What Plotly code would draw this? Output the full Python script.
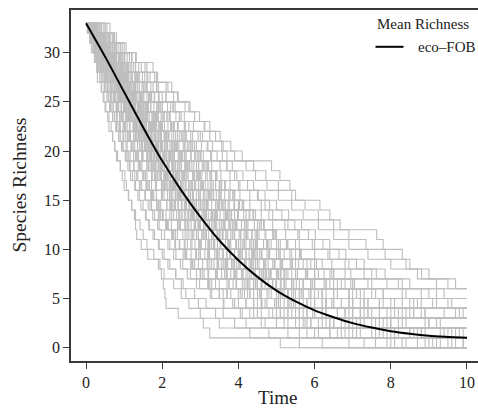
import plotly.graph_objects as go

# ---- data -------------------------------------------------------------
START_RICHNESS = 33
T_END = 10

# Mean richness curve (eco-FOB)
mean_time = [0, 0.5, 1.0, 1.5, 2.0, 2.5, 3.0, 3.5, 4.0, 4.5, 5.0,
             5.5, 6.0, 6.5, 7.0, 7.5, 8.0, 8.5, 9.0, 9.5, 10.0]
mean_richness = [33, 29.6, 26.0, 22.4, 19.0, 16.0, 13.3, 10.9, 8.9, 7.2, 5.8,
                 4.7, 3.8, 3.1, 2.5, 2.05, 1.68, 1.42, 1.22, 1.1, 1.0]

# Simulated runs: times at which one species is lost (richness 33 -> 32 -> ...)
run_a = [0.05,0.1,0.18,0.24,0.3,0.36,0.41,0.47,0.52,0.6,0.66,0.7,0.76,0.83,0.9,1.02,1.06,1.11,1.2,1.27,1.3,1.33,1.45,1.62,1.94,1.98,2.03,2.07,2.1,2.42,3.08,3.25,5.1]
run_b = [0.08,0.15,0.22,0.3,0.38,0.45,0.52,0.6,0.68,0.75,0.84,0.9,0.98,1.08,1.15,1.22,1.3,1.4,1.5,1.58,1.66,1.8,1.92,2.05,2.2,2.36,2.5,2.62,2.95,3.4,3.9,4.8,6.2]
run_c = [0.1,0.2,0.25,0.33,0.42,0.5,0.56,0.66,0.72,0.8,0.88,0.97,1.05,1.12,1.25,1.33,1.42,1.55,1.63,1.75,1.88,1.98,2.15,2.3,2.48,2.66,2.9,3.3,3.62,4.1,4.6,5.6,7.3]
run_d = [0.12,0.22,0.3,0.4,0.5,0.58,0.66,0.78,0.86,0.98,1.08,1.17,1.28,1.38,1.47,1.6,1.72,1.85,1.96,2.1,2.24,2.4,2.58,2.76,2.95,3.2,3.4,3.7,4.2,4.9,5.5,6.9,9.1]
run_e = [0.09,0.2,0.35,0.45,0.52,0.63,0.74,0.85,0.93,1.04,1.15,1.26,1.35,1.48,1.6,1.72,1.84,1.98,2.12,2.25,2.42,2.6,2.78,2.96,3.18,3.42,3.75,4.1,4.5,5.2,6.1,7.8]
run_f = [0.15,0.24,0.36,0.48,0.58,0.7,0.8,0.9,1.02,1.12,1.24,1.36,1.48,1.6,1.72,1.86,1.99,2.14,2.28,2.44,2.6,2.8,2.98,3.2,3.45,3.7,3.95,4.3,4.75,5.3,6.4,8.2,9.6]
run_g = [0.11,0.26,0.38,0.5,0.61,0.72,0.86,0.97,1.1,1.2,1.33,1.45,1.58,1.7,1.84,1.97,2.12,2.28,2.42,2.58,2.76,2.95,3.14,3.38,3.62,3.88,4.2,4.55,5.0,5.7,6.5,8.8]
run_h = [0.13,0.27,0.4,0.53,0.66,0.78,0.9,1.03,1.15,1.28,1.41,1.54,1.66,1.8,1.95,2.1,2.25,2.42,2.6,2.76,2.94,3.15,3.36,3.6,3.86,4.12,4.45,4.8,5.3,5.95,6.9,9.3]
run_i = [0.17,0.3,0.41,0.55,0.68,0.8,0.94,1.06,1.18,1.3,1.44,1.58,1.7,1.85,2.0,2.14,2.3,2.46,2.64,2.82,3.0,3.22,3.45,3.7,3.95,4.25,4.6,5.05,5.5,6.2,7.3]
run_j = [0.14,0.28,0.43,0.56,0.7,0.83,0.97,1.1,1.24,1.37,1.5,1.64,1.78,1.92,2.06,2.22,2.38,2.55,2.72,2.9,3.08,3.3,3.52,3.78,4.05,4.34,4.7,5.1,5.6,6.3,7.8,9.8]
run_k = [0.16,0.3,0.46,0.6,0.74,0.88,1.02,1.16,1.3,1.44,1.59,1.73,1.87,2.02,2.18,2.35,2.52,2.7,2.9,3.08,3.3,3.52,3.78,4.02,4.32,4.62,4.98,5.4,5.9,6.6,7.5]
run_l = [0.12,0.32,0.44,0.62,0.72,0.9,1.0,1.18,1.28,1.46,1.56,1.76,1.84,2.06,2.14,2.4,2.48,2.74,2.84,3.12,3.24,3.58,3.72,4.1,4.28,4.7,4.9,5.5,5.8,6.9,8.0,9.4]
run_m = [0.18,0.34,0.48,0.63,0.78,0.92,1.07,1.22,1.36,1.51,1.66,1.8,1.95,2.1,2.27,2.45,2.62,2.82,3.01,3.21,3.43,3.67,3.93,4.2,4.5,4.84,5.2,5.65,6.2,7.0,8.4]
run_n = [0.2,0.36,0.5,0.66,0.8,0.96,1.1,1.26,1.4,1.55,1.7,1.86,2.0,2.16,2.34,2.52,2.7,2.9,3.1,3.32,3.55,3.8,4.05,4.35,4.66,5.0,5.4,5.85,6.5,7.4,9.0]
run_o = [0.15,0.33,0.5,0.68,0.82,0.98,1.13,1.28,1.44,1.6,1.75,1.9,2.06,2.22,2.4,2.58,2.76,2.96,3.18,3.4,3.64,3.9,4.16,4.46,4.78,5.12,5.52,6.0,6.7,7.7,9.2]
run_p = [0.21,0.38,0.54,0.7,0.86,1.03,1.18,1.34,1.5,1.66,1.82,1.98,2.14,2.32,2.5,2.68,2.88,3.08,3.3,3.52,3.76,4.02,4.3,4.6,4.94,5.3,5.7,6.2,6.9,8.1]
run_q = [0.19,0.4,0.57,0.74,0.9,1.07,1.24,1.4,1.57,1.73,1.9,2.07,2.24,2.42,2.6,2.8,3.0,3.22,3.44,3.68,3.92,4.2,4.5,4.82,5.16,5.55,6.0,6.6,7.3,8.6]
run_r = [0.22,0.42,0.6,0.77,0.95,1.12,1.3,1.47,1.64,1.82,1.99,2.16,2.34,2.53,2.72,2.92,3.13,3.35,3.58,3.82,4.08,4.36,4.66,5.0,5.36,5.76,6.25,6.9,7.8,9.4]
run_s = [0.25,0.44,0.63,0.8,0.98,1.16,1.35,1.52,1.7,1.88,2.06,2.25,2.44,2.63,2.83,3.04,3.26,3.49,3.73,3.98,4.25,4.54,4.86,5.2,5.58,6.0,6.5,7.1,8.0]
run_t = [0.23,0.46,0.65,0.85,1.03,1.22,1.4,1.6,1.78,1.97,2.15,2.35,2.55,2.75,2.96,3.18,3.4,3.64,3.88,4.14,4.42,4.72,5.05,5.4,5.8,6.25,6.8,7.5,8.7]
run_u = [0.26,0.48,0.68,0.88,1.08,1.28,1.47,1.66,1.86,2.05,2.25,2.45,2.66,2.87,3.08,3.3,3.54,3.78,4.03,4.3,4.6,4.92,5.26,5.63,6.05,6.5,7.05,7.8,9.1]
run_v = [0.3,0.52,0.74,0.95,1.16,1.37,1.58,1.79,2.0,2.2,2.42,2.63,2.85,3.08,3.3,3.54,3.78,4.04,4.3,4.6,4.9,5.24,5.6,6.0,6.45,6.95,7.5,8.3,9.5]
run_w = [0.35,0.58,0.8,1.02,1.25,1.48,1.7,1.92,2.14,2.36,2.58,2.8,3.03,3.27,3.52,3.78,4.04,4.3,4.6,4.9,5.22,5.56,5.94,6.35,6.8,7.3,7.9,8.8]
run_x = [0.4,0.65,0.9,1.14,1.38,1.62,1.86,2.1,2.34,2.58,2.82,3.06,3.32,3.58,3.84,4.12,4.4,4.7,5.0,5.32,5.66,6.02,6.4,6.82,7.3,7.85,8.5,9.4]
run_y = [0.63,0.72,0.8,1.2,1.76,1.85,2.25,2.4,2.73,2.85,3.12,3.25,3.56,3.7,4.87,5.09,5.35,5.5,6.14,6.4,6.67,7.63,7.8,8.3,8.5,8.81,9.2]
run_z = [0.45,0.75,1.05,1.32,1.6,1.88,2.15,2.42,2.7,2.98,3.25,3.52,3.8,4.1,4.4,4.72,5.05,5.4,5.75,6.1,6.5,6.9,7.35,7.85,8.4,9.0,9.7]
run_aa = [0.06,0.12,0.2,0.27,0.33,0.4,0.48,0.55,0.62,0.7,0.78,0.86,0.95,1.05,1.15,1.28,1.4,1.55,1.72,1.9,2.1,2.35,2.6,2.9,3.3,3.8,4.4,5.2,6.3,7.9]
run_ab = [0.4,0.7,0.95,1.2,1.45,1.68,1.9,2.1,2.28,2.45,2.6,2.75,2.9,3.02,3.15,3.28,3.4,3.52,3.65,3.78,3.92,4.06,4.2,4.36,4.54,4.74,5.0,5.3,5.7,6.3,7.2,8.5,9.9]
run_ac = [0.1,0.18,0.3,0.38,0.47,0.56,0.64,0.73,0.82,0.92,1.0,1.1,1.2,1.3,1.4,1.5,1.62,1.74,1.86,2.0,2.12,2.28,2.45,2.64,2.85,3.05,3.3,3.6,4.0,4.5,5.3,6.6,8.3]
run_ad = [0.2,0.28,0.42,0.52,0.64,0.76,0.88,1.0,1.12,1.24,1.36,1.5,1.64,1.78,1.92,2.06,2.2,2.36,2.52,2.68,2.86,3.04,3.24,3.46,3.7,3.96,4.25,4.6,5.0,5.6,6.8,8.6]
run_ae = [0.24,0.4,0.55,0.7,0.85,1.0,1.15,1.3,1.46,1.62,1.78,1.94,2.1,2.26,2.44,2.62,2.8,3.0,3.2,3.42,3.65,3.9,4.15,4.42,4.72,5.05,5.45,5.9,6.45,7.2,8.3,9.7]
run_af = [0.28,0.5,0.7,0.9,1.1,1.3,1.5,1.68,1.86,2.04,2.22,2.4,2.58,2.76,2.95,3.14,3.34,3.55,3.76,3.98,4.22,4.48,4.76,5.06,5.4,5.8,6.3,6.9,7.7,8.9]
run_ag = [0.08,0.22,0.34,0.46,0.56,0.68,0.8,0.92,1.04,1.16,1.28,1.4,1.53,1.66,1.79,1.92,2.06,2.2,2.35,2.5,2.66,2.83,3.02,3.22,3.44,3.68,3.94,4.24,4.62,5.1,5.75,6.7,8.1]
run_ah = [0.32,0.55,0.78,1.0,1.2,1.4,1.6,1.8,2.0,2.2,2.4,2.6,2.8,3.0,3.22,3.44,3.66,3.9,4.14,4.4,4.68,4.98,5.3,5.65,6.05,6.5,7.0,7.6,8.5,9.8]
run_ai = [0.04,0.2,0.23,0.4,0.44,0.5,0.7,0.74,0.79,0.95,1.0,1.03,1.2,1.34,1.37,1.5,1.58,1.7,1.92,1.95,2.1,2.3,2.33,2.6,2.8,3.1,3.2,3.7,4.4,4.6,5.8,6.4,8.7]
run_aj = [0.1,0.13,0.35,0.5,0.52,0.8,0.85,0.88,1.12,1.3,1.33,1.6,1.65,1.7,2.0,2.1,2.3,2.35,2.7,2.75,3.0,3.3,3.35,3.8,3.9,4.4,4.5,5.1,5.3,6.6,7.1]
run_ak = [0.3,0.33,0.45,0.72,0.75,0.9,1.2,1.25,1.3,1.6,1.7,1.95,2.0,2.2,2.5,2.55,2.7,3.1,3.15,3.4,3.8,3.85,4.3,4.4,4.9,5.2,5.9,6.1,7.4,8.2]
run_al = [0.15,0.5,0.55,0.6,0.95,1.0,1.1,1.45,1.5,1.8,1.85,2.1,2.2,2.5,2.6,2.9,2.95,3.3,3.4,3.75,3.85,4.35,4.45,5.0,5.1,5.8,6.4,7.0,8.8]
run_am = [0.05,0.25,0.3,0.42,0.6,0.65,0.75,0.9,1.0,1.1,1.25,1.3,1.48,1.6,1.75,1.8,2.0,2.2,2.25,2.45,2.6,2.9,3.0,3.2,3.55,3.7,4.1,4.4,5.0,5.4,6.3,7.6,9.5]
run_an = [0.5,0.55,0.62,1.0,1.05,1.3,1.6,1.65,1.9,2.2,2.25,2.6,2.7,3.0,3.05,3.4,3.5,3.9,4.0,4.45,4.55,5.0,5.5,5.6,6.2,6.8,7.4,8.4,9.6]
run_ao = [0.03,0.1,0.14,0.22,0.28,0.3,0.4,0.45,0.5,0.57,0.6,0.7,0.75,0.8,0.9,0.95,1.0,1.12,1.2,1.3,1.42,1.5,1.6,1.78,1.9,2.05,2.3,2.5,2.7,3.0,3.5,4.3,5.6]
run_ap = [0.2,0.25,0.45,0.55,0.7,0.95,1.0,1.1,1.35,1.4,1.55,1.8,1.85,2.05,2.25,2.3,2.55,2.75,2.8,3.1,3.3,3.45,3.75,4.0,4.2,4.6,5.0,5.3,6.0,6.8,8.0,9.9]
run_aq = [0.1,0.4,0.6,0.85,0.9,1.2,1.35,1.4,1.7,1.9,2.0,2.3,2.4,2.6,2.9,3.0,3.3,3.5,3.6,4.0,4.2,4.5,4.8,5.1,5.5,6.0,6.7,7.2,8.3,9.9]
run_ar = [0.15,0.2,0.3,0.48,0.55,0.6,0.8,0.85,0.92,1.1,1.15,1.25,1.45,1.5,1.6,1.8,1.85,2.0,2.2,2.3,2.45,2.65,2.75,3.0,3.2,3.4,3.75,4.0,4.6,5.0,5.9,7.0,8.9]
run_as = [0.55,0.6,0.9,1.2,1.3,1.6,1.85,1.9,2.3,2.5,2.6,3.0,3.2,3.3,3.7,3.9,4.0,4.5,4.7,4.8,5.3,5.6,6.0,6.4,6.9,7.5,8.2,9.0]
run_at = [0.1,0.3,0.36,0.6,0.65,0.8,1.0,1.05,1.25,1.45,1.5,1.7,1.85,1.9,2.15,2.3,2.35,2.6,2.8,2.85,3.1,3.35,3.45,3.7,4.0,4.2,4.6,5.0,5.4,6.0,7.6]
run_au = [0.25,0.3,0.55,0.65,0.85,1.1,1.15,1.3,1.55,1.6,1.8,2.05,2.1,2.3,2.6,2.65,2.85,3.15,3.2,3.45,3.75,3.85,4.15,4.5,4.7,5.1,5.6,6.3,7.0,8.5]
run_av = [0.06,0.16,0.2,0.35,0.4,0.5,0.64,0.68,0.8,0.92,0.97,1.08,1.2,1.25,1.4,1.52,1.58,1.72,1.86,1.92,2.1,2.25,2.35,2.55,2.75,2.9,3.2,3.5,3.9,4.4,5.0,6.0,7.9]
run_aw = [0.18,0.22,0.48,0.6,0.7,0.98,1.02,1.2,1.4,1.48,1.7,1.9,1.95,2.2,2.35,2.45,2.7,2.9,3.0,3.3,3.5,3.6,3.95,4.2,4.4,4.8,5.2,5.7,6.3,7.3,9.0]
run_ax = [0.3,0.45,0.62,0.78,1.0,1.1,1.3,1.5,1.62,1.85,2.0,2.15,2.4,2.5,2.72,2.95,3.05,3.3,3.55,3.7,3.95,4.25,4.4,4.75,5.1,5.4,5.9,6.5,7.3,8.6]
run_ay = [0.12,0.18,0.38,0.46,0.6,0.76,0.82,0.96,1.12,1.18,1.32,1.5,1.56,1.72,1.9,1.96,2.15,2.35,2.42,2.62,2.85,2.95,3.2,3.45,3.6,3.9,4.3,4.6,5.1,5.8,6.9,8.5]
run_az = [0.4,0.5,0.75,0.95,1.1,1.35,1.55,1.7,1.95,2.15,2.3,2.55,2.78,2.92,3.2,3.42,3.56,3.85,4.1,4.28,4.6,4.9,5.1,5.5,5.9,6.4,7.0,7.8,9.2]
run_ba = [0.07,0.13,0.2,0.26,0.36,0.42,0.48,0.58,0.64,0.7,0.8,0.86,0.93,1.03,1.1,1.17,1.28,1.36,1.44,1.56,1.65,1.76,1.9,2.0,2.15,2.35,2.55,2.85,3.15,3.6,4.2,5.3,6.9]
run_bb = [0.14,0.3,0.5,0.58,0.76,0.92,1.08,1.2,1.38,1.52,1.68,1.82,1.98,2.12,2.3,2.44,2.62,2.8,2.96,3.16,3.36,3.58,3.8,4.06,4.34,4.66,5.0,5.45,6.0,6.8,7.9,9.5]
run_bc = [0.5,0.8,1.0,1.3,1.55,1.8,2.1,2.3,2.6,2.85,3.1,3.4,3.6,3.9,4.2,4.45,4.75,5.05,5.4,5.7,6.1,6.5,6.9,7.4,8.0,8.7,9.5]
run_bd = [0.2,0.45,0.7,0.8,1.05,1.3,1.4,1.65,1.9,2.0,2.25,2.5,2.6,2.85,3.1,3.25,3.5,3.75,3.9,4.2,4.5,4.7,5.0,5.35,5.7,6.1,6.6,7.3,8.1,9.7]
run_be = [0.1,0.25,0.4,0.5,0.65,0.8,0.9,1.05,1.2,1.32,1.46,1.6,1.72,1.88,2.02,2.15,2.32,2.48,2.62,2.8,2.98,3.16,3.36,3.58,3.82,4.08,4.4,4.75,5.2,5.8,6.7,8.0,9.3]
run_bf = [0.22,0.36,0.58,0.72,0.92,1.08,1.26,1.42,1.6,1.76,1.94,2.1,2.28,2.46,2.64,2.84,3.04,3.24,3.46,3.7,3.94,4.2,4.48,4.8,5.15,5.55,6.0,6.6,7.4,8.8]
run_bg = [0.1,0.16,0.34,0.42,0.55,0.7,0.74,0.9,1.0,1.08,1.24,1.32,1.45,1.62,1.68,1.82,1.98,2.05,2.22,2.38,2.48,2.7,2.86,3.0,3.25,3.45,3.7,4.05,4.4,5.0,5.7,7.1,9.0]
run_bh = [0.2,0.24,0.4,0.58,0.62,0.82,0.95,1.0,1.2,1.34,1.4,1.6,1.74,1.8,2.0,2.18,2.22,2.45,2.62,2.7,2.95,3.12,3.25,3.5,3.72,3.9,4.25,4.6,5.0,5.6,6.5,8.1]
run_bi = [0.12,0.35,0.45,0.65,0.8,0.9,1.1,1.28,1.35,1.55,1.72,1.8,2.0,2.2,2.28,2.5,2.7,2.8,3.05,3.28,3.4,3.68,3.95,4.1,4.45,4.8,5.1,5.6,6.3,7.2,8.9]
run_bj = [0.05,0.18,0.26,0.32,0.46,0.54,0.6,0.74,0.82,0.88,1.02,1.1,1.18,1.32,1.42,1.5,1.66,1.76,1.85,2.02,2.14,2.26,2.45,2.6,2.76,3.0,3.25,3.5,3.9,4.5,5.2,6.4,8.4]
run_bk = [0.28,0.4,0.52,0.8,0.9,1.02,1.3,1.42,1.55,1.82,1.95,2.1,2.36,2.5,2.66,2.9,3.05,3.24,3.5,3.66,3.88,4.15,4.35,4.62,4.95,5.25,5.7,6.2,6.9,8.0]
run_bl = [0.08,0.3,0.38,0.52,0.68,0.75,0.92,1.08,1.16,1.3,1.48,1.55,1.7,1.88,1.96,2.12,2.32,2.4,2.58,2.78,2.88,3.08,3.3,3.42,3.66,3.94,4.15,4.5,4.95,5.5,6.4,7.7]
run_bm = [0.22,0.3,0.5,0.62,0.78,0.94,1.04,1.22,1.38,1.46,1.64,1.82,1.9,2.1,2.3,2.38,2.6,2.8,2.9,3.14,3.36,3.5,3.76,4.0,4.2,4.55,4.9,5.3,5.8,6.6,7.7,9.6]
run_bn = [0.14,0.2,0.32,0.44,0.5,0.66,0.76,0.82,0.98,1.06,1.14,1.3,1.4,1.46,1.64,1.74,1.82,2.0,2.12,2.2,2.4,2.54,2.66,2.88,3.06,3.22,3.5,3.8,4.2,4.8,5.6,6.8,9.2]
run_bo = [0.26,0.34,0.56,0.66,0.86,1.04,1.12,1.32,1.5,1.58,1.78,1.96,2.06,2.26,2.46,2.56,2.78,3.0,3.1,3.36,3.6,3.72,4.0,4.28,4.5,4.86,5.25,5.7,6.3,7.4]
run_bp = [0.1,0.22,0.36,0.48,0.58,0.72,0.84,0.94,1.08,1.2,1.3,1.44,1.58,1.68,1.82,1.98,2.08,2.24,2.42,2.52,2.7,2.9,3.02,3.24,3.48,3.64,3.95,4.3,4.7,5.3,6.2,7.5,9.7]
run_bq = [0.16,0.28,0.44,0.58,0.72,0.86,1.0,1.14,1.3,1.42,1.58,1.72,1.88,2.02,2.18,2.34,2.5,2.68,2.86,3.04,3.24,3.44,3.66,3.9,4.16,4.44,4.78,5.15,5.6,6.2,7.2,8.7]
run_br = [0.2,0.38,0.56,0.74,0.92,1.1,1.28,1.46,1.64,1.82,2.0,2.18,2.38,2.58,2.78,2.98,3.2,3.42,3.66,3.9,4.16,4.44,4.74,5.06,5.42,5.82,6.3,6.9,7.7,8.9]
run_bs = [0.06,0.14,0.24,0.3,0.4,0.48,0.56,0.64,0.72,0.82,0.9,0.98,1.08,1.16,1.26,1.36,1.46,1.56,1.68,1.8,1.92,2.06,2.2,2.36,2.54,2.74,2.98,3.26,3.6,4.05,4.7,5.8,7.6]
run_bt = [0.3,0.5,0.7,0.92,1.12,1.32,1.52,1.72,1.92,2.12,2.32,2.52,2.74,2.96,3.18,3.4,3.64,3.88,4.12,4.38,4.66,4.96,5.28,5.62,6.0,6.45,6.95,7.6,8.6]
run_bu = [0.14,0.32,0.42,0.6,0.7,0.86,0.98,1.14,1.26,1.4,1.54,1.68,1.82,1.96,2.12,2.28,2.42,2.6,2.78,2.94,3.14,3.34,3.54,3.78,4.04,4.3,4.62,5.0,5.45,6.0,7.0,8.8]
run_bv = [0.18,0.36,0.6,0.72,0.94,1.06,1.28,1.4,1.62,1.74,1.96,2.08,2.32,2.44,2.7,2.82,3.08,3.2,3.48,3.62,3.92,4.06,4.4,4.56,4.96,5.2,5.7,6.2,7.0,8.3]
run_bw = [0.12,0.2,0.36,0.44,0.6,0.68,0.84,0.92,1.06,1.14,1.3,1.38,1.54,1.62,1.78,1.88,2.04,2.14,2.32,2.44,2.62,2.76,2.96,3.12,3.36,3.56,3.86,4.16,4.6,5.1,5.9,7.2]
run_bx = [0.24,0.38,0.52,0.66,0.8,0.96,1.12,1.26,1.42,1.58,1.74,1.9,2.06,2.22,2.4,2.58,2.76,2.96,3.16,3.38,3.6,3.84,4.1,4.38,4.68,5.02,5.4,5.9,6.5,7.5,9.3]
run_by = [0.16,0.26,0.4,0.54,0.64,0.78,0.9,1.04,1.16,1.3,1.42,1.56,1.7,1.84,1.98,2.14,2.28,2.44,2.62,2.78,2.98,3.16,3.38,3.6,3.86,4.12,4.46,4.86,5.35,6.0,7.1,8.9]
run_bz = [0.36,0.62,0.84,1.08,1.3,1.54,1.76,2.0,2.22,2.46,2.7,2.94,3.18,3.44,3.7,3.96,4.24,4.52,4.82,5.14,5.48,5.84,6.22,6.64,7.1,7.62,8.3,9.2]
run_ca = [0.08,0.2,0.3,0.42,0.52,0.64,0.76,0.88,1.0,1.12,1.26,1.4,1.56,1.72,1.9,2.08,2.28,2.5,2.72,2.96,3.2,3.46,3.74,4.04,4.36,4.72,5.12,5.6,6.2,7.0,8.2]
run_cb = [0.1,0.2,0.28,0.38,0.46,0.56,0.66,0.76,0.84,0.94,1.04,1.14,1.24,1.34,1.44,1.56,1.66,1.78,1.9,2.02,2.16,2.3,2.46,2.62,2.8,3.0,3.22,3.5,3.85,4.3,5.0,6.1,8.0]
run_cc = [0.2,0.4,0.56,0.74,0.9,1.08,1.24,1.42,1.58,1.76,1.94,2.1,2.28,2.46,2.64,2.84,3.04,3.26,3.48,3.72,3.96,4.22,4.5,4.8,5.14,5.5,5.95,6.5,7.2,8.4]
run_cd = [0.06,0.24,0.34,0.5,0.6,0.76,0.86,1.0,1.12,1.24,1.36,1.5,1.62,1.76,1.9,2.04,2.2,2.34,2.5,2.68,2.84,3.04,3.22,3.44,3.68,3.94,4.24,4.6,5.05,5.6,6.5,7.9,9.9]

runs = [run_a, run_b, run_c, run_d, run_e, run_f, run_g, run_h, run_i, run_j,
        run_k, run_l, run_m, run_n, run_o, run_p, run_q, run_r, run_s, run_t,
        run_u, run_v, run_w, run_x, run_y, run_z, run_aa, run_ab, run_ac,
        run_ad, run_ae, run_af, run_ag, run_ah, run_ai, run_aj, run_ak, run_al,
        run_am, run_an, run_ao, run_ap, run_aq, run_ar, run_as, run_at, run_au,
        run_av, run_aw, run_ax, run_ay, run_az, run_ba, run_bb, run_bc, run_bd,
        run_be, run_bf, run_bg, run_bh, run_bi, run_bj, run_bk, run_bl, run_bm,
        run_bn, run_bo, run_bp, run_bq, run_br, run_bs, run_bt, run_bu, run_bv,
        run_bw, run_bx, run_by, run_bz, run_ca, run_cb, run_cc, run_cd]

x_ticks = [0, 2, 4, 6, 8, 10]
y_ticks = [0, 5, 10, 15, 20, 25, 30]

# ---- geometry helpers (layout only) -------------------------------------
W, H = 478, 409
PL, PR, PT, PB = 71, 478, 10, 361   # plot area in pixels


def px(xp):
    return (xp - PL) / (PR - PL)


def py(yp):
    return (PB - yp) / (PB - PT)


# ---- build step lines ----------------------------------------------------
gx, gy = [], []
for run in runs:
    xs = [0.0]
    ys = [START_RICHNESS]
    level = START_RICHNESS
    for t in run[:START_RICHNESS]:
        level -= 1
        xs.append(t)
        ys.append(level)
    xs.append(T_END)
    ys.append(level)
    gx += xs + [None]
    gy += ys + [None]

fig = go.Figure()
fig.add_trace(go.Scatter(
    x=gx, y=gy, mode="lines", line=dict(color="#bebebe", width=1.1, shape="hv"),
    connectgaps=False, showlegend=False, hoverinfo="skip"))
fig.add_trace(go.Scatter(
    x=mean_time, y=mean_richness, mode="lines",
    line=dict(color="black", width=2, shape="spline", smoothing=0.8),
    name="eco–FOB", showlegend=False))

serif = "Liberation Serif"
axis_common = dict(
    showgrid=False, zeroline=False, showline=True, linecolor="#3a3a3a",
    linewidth=1.5, ticks="outside", ticklen=6, tickwidth=1, tickcolor="#3a3a3a",
    tickfont=dict(family=serif, size=16, color="#222"),
)

fig.update_layout(
    width=W, height=H,
    margin=dict(l=PL, r=W - PR, t=PT, b=H - PB),
    paper_bgcolor="white", plot_bgcolor="white",
    xaxis=dict(range=[-0.394, 10.289], tickvals=x_ticks, mirror=True, **axis_common),
    yaxis=dict(range=[-1.353, 34.34], tickvals=y_ticks, **axis_common),
    font=dict(family=serif, color="#222"),
    annotations=[
        dict(text="Time", xref="paper", yref="paper", x=px(277), y=py(397),
             xanchor="center", yanchor="middle", showarrow=False,
             font=dict(size=19, family=serif, color="#222")),
        dict(text="Species Richness", xref="paper", yref="paper", x=px(19), y=0.5,
             xanchor="center", yanchor="middle", textangle=-90, showarrow=False,
             font=dict(size=19.5, family=serif, color="#222")),
        dict(text="Mean Richness", xref="paper", yref="paper", x=px(375), y=py(24),
             xanchor="left", yanchor="middle", showarrow=False,
             font=dict(size=15, family=serif, color="#222")),
        dict(text="eco–FOB", xref="paper", yref="paper", x=px(416), y=py(47),
             xanchor="left", yanchor="middle", showarrow=False,
             font=dict(size=15, family=serif, color="#222")),
    ],
    shapes=[
        dict(type="line", xref="paper", yref="paper", x0=px(375.5), x1=px(403.5),
             y0=py(46.8), y1=py(46.8), line=dict(color="black", width=2)),
    ],
)

fig.write_html(
    "out.html",
    config={"displayModeBar": False},
    post_script="document.body.style.margin='0';document.body.style.padding='0';"
                "document.body.style.overflow='hidden';",
)
